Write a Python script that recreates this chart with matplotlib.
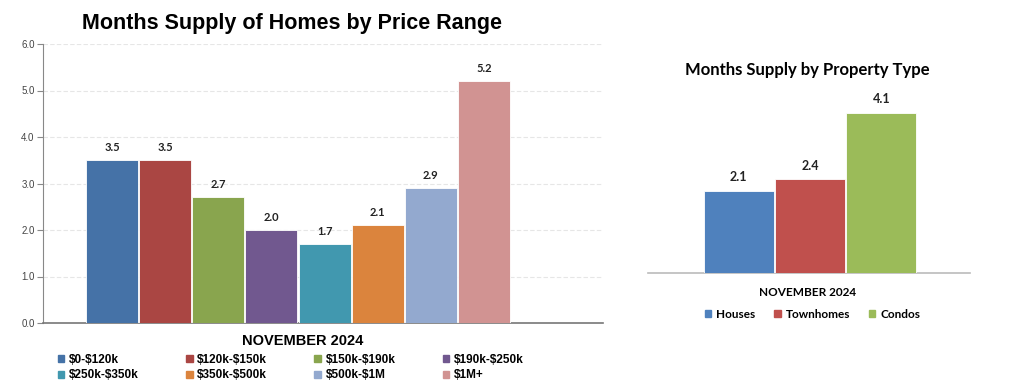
import matplotlib.pyplot as plt
from matplotlib.patches import Patch

# datos: meses de inventario por rango de precio
rangos = ['$0-$120k', '$120k-$150k', '$150k-$190k', '$190k-$250k',
          '$250k-$350k', '$350k-$500k', '$500k-$1M', '$1M+']
meses_rango = [3.5, 3.5, 2.7, 2.0, 1.7, 2.1, 2.9, 5.2]
colores_rango = ['#4572A7', '#AA4643', '#89A54E', '#71588F',
                 '#4198AF', '#DB843D', '#93A9CF', '#D19392']

# datos: meses de inventario por tipo de propiedad
tipos = ['Houses', 'Townhomes', 'Condos']
meses_tipo = [2.1, 2.4, 4.1]
colores_tipo = ['#4F81BD', '#C0504D', '#9BBB59']

periodo = 'NOVEMBER 2024'
yticks_izq = [0, 1, 2, 3, 4, 5, 6]

plt.rcParams['text.parse_math'] = False
arial = 'Liberation Sans'
calibri = 'Lato'

fig = plt.figure(figsize=(10.24, 3.88), dpi=100)

# grafico izquierdo
ax1 = fig.add_axes([43/1024, 1 - 323/388, 560/1024, 279/388])
x1 = list(range(len(rangos)))
barras = ax1.bar(x1, meses_rango, width=0.98, color=colores_rango,
                 edgecolor='white', linewidth=0.6, zorder=3)
for b, v in zip(barras, meses_rango):
    ax1.text(b.get_x() + b.get_width() / 2, v + 0.16, f'{v:.1f}',
             ha='center', va='bottom', fontsize=8, fontweight='bold',
             family=calibri, color='#222222')
ax1.set_xlim(-1.3, 9.24)
ax1.set_ylim(0, 6)
ax1.set_yticks(yticks_izq)
ax1.set_yticklabels([f'{t:.1f}' for t in yticks_izq], fontsize=7,
                    family=arial, color='#444444')
ax1.set_xticks([])
ax1.grid(axis='y', color='#e6e6e6', linestyle=(0, (4, 2)), linewidth=0.8, zorder=0)
for s in ['top', 'right']:
    ax1.spines[s].set_visible(False)
ax1.spines['left'].set_color('#888888')
ax1.spines['bottom'].set_color('#777777')
ax1.spines['bottom'].set_linewidth(1.2)
ax1.tick_params(axis='y', length=4, color='#888888', pad=2)

fig.text(292/1024, 1 - 24/388, 'Months Supply of Homes by Price Range',
         ha='center', va='center', fontsize=15.5, fontweight='bold', family=arial)
fig.text(303/1024, 1 - 341/388, periodo, ha='center', va='center',
         fontsize=10.5, fontweight='bold', family=arial)

# la leyenda se llena por columnas, asi que reordeno para que quede por filas
orden = [0, 4, 1, 5, 2, 6, 3, 7]
manijas = [Patch(color=colores_rango[i]) for i in orden]
etiquetas = [rangos[i] for i in orden]
fig.legend(manijas, etiquetas, loc='upper left', bbox_to_anchor=(52/1024, 1 - 348/388),
           ncol=4, frameon=False, prop={'family': arial, 'weight': 'bold', 'size': 8.5},
           handlelength=0.55, handleheight=0.55, handletextpad=0.4,
           columnspacing=4.0, labelspacing=0.3, borderpad=0)

# grafico derecho
ax2 = fig.add_axes([648/1024, 1 - 273/388, 322/1024, 195/388])
x2 = list(range(len(tipos)))
barras2 = ax2.bar(x2, meses_tipo, width=0.98, color=colores_tipo,
                  edgecolor='white', linewidth=0.6, zorder=3)
for b, v in zip(barras2, meses_tipo):
    ax2.text(b.get_x() + b.get_width() / 2, v + 0.2, f'{v:.1f}',
             ha='center', va='bottom', fontsize=9, fontweight='bold',
             family=calibri, color='#222222')
ax2.set_xlim(-1.27, 3.24)
ax2.set_ylim(0, 5)
ax2.set_xticks([])
ax2.set_yticks([])
for s in ['top', 'right', 'left']:
    ax2.spines[s].set_visible(False)
ax2.spines['bottom'].set_color('#bbbbbb')
ax2.spines['bottom'].set_linewidth(1.2)

fig.text(807/1024, 1 - 70/388, 'Months Supply by Property Type',
         ha='center', va='center', fontsize=12, fontweight='bold', family=calibri)
fig.text(808/1024, 1 - 292/388, periodo, ha='center', va='center',
         fontsize=8.5, fontweight='bold', family=calibri)

manijas2 = [Patch(color=c) for c in colores_tipo]
fig.legend(manijas2, tipos, loc='center left', bbox_to_anchor=(699/1024, 1 - 314/388),
           ncol=3, frameon=False, prop={'family': calibri, 'weight': 'bold', 'size': 8.5},
           handlelength=0.55, handleheight=0.55, handletextpad=0.4,
           columnspacing=1.6, borderpad=0)

plt.savefig('out.png', dpi=100)
